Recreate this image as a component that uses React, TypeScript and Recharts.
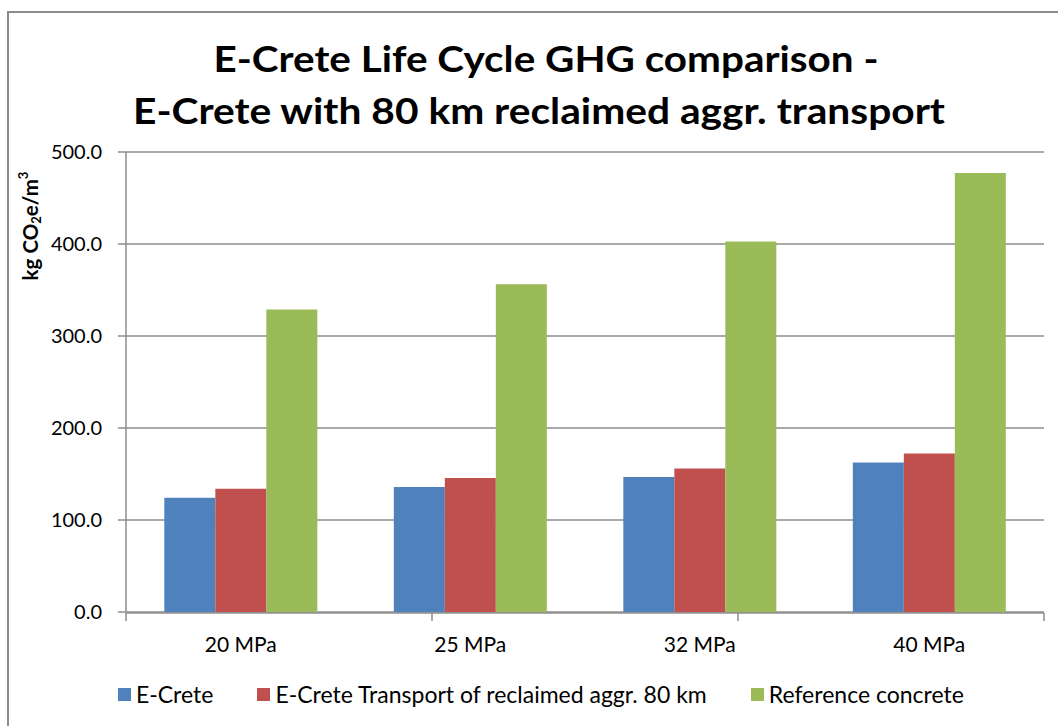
import { BarChart, Bar, XAxis, YAxis, CartesianGrid } from "recharts";

const categories = ["20 MPa", "25 MPa", "32 MPa", "40 MPa"];
const eCrete = [124.3, 135.9, 146.8, 162.4];
const eCreteTransport = [134.1, 145.7, 155.9, 172.2];
const referenceConcrete = [328.7, 356.2, 402.6, 477.2];
const yTicks = [0, 100, 200, 300, 400, 500];
const boundaryTicks = [0, 1, 2, 3, 4];

const SERIES = [
  { key: "eCrete", name: "E-Crete", color: "#4F81BD" },
  { key: "eCreteTransport", name: "E-Crete Transport of reclaimed aggr. 80 km", color: "#C0504D" },
  { key: "referenceConcrete", name: "Reference concrete", color: "#9BBB59" },
];

const data = categories.map((name, i) => ({
  name,
  eCrete: eCrete[i],
  eCreteTransport: eCreteTransport[i],
  referenceConcrete: referenceConcrete[i],
}));

const FONT = "Lato, 'Open Sans', sans-serif";
const GRID = "#8c8c8c";

// rotated y-axis title with sub/superscript
// eslint-disable-next-line @typescript-eslint/no-explicit-any
function YTitle(props: any) {
  const vb = props.viewBox || { x: 0, y: 152, width: 126, height: 460 };
  const x = vb.x + 33;
  const y = vb.y + 74;
  return (
    <text x={x} y={y} transform={`rotate(-90 ${x} ${y})`} textAnchor="middle" dominantBaseline="middle"
      style={{ fontFamily: FONT, fontWeight: 700, fontSize: 20.5, fill: "#000" }}>
      kg CO<tspan fontSize={13} dy={5}>2</tspan><tspan dy={-5}>e/m</tspan><tspan fontSize={13} dy={-8}>3</tspan>
    </text>
  );
}

export default function App() {
  return (
    <div style={{ position: "absolute", left: 0, top: 0, width: 1058, height: 726, overflow: "hidden", background: "#fff" }}>
      {/* Excel chart frame (only top/left visible in the crop) */}
      <div style={{ position: "absolute", left: 7, top: 11, width: 1100, height: 800, border: "2px solid #8c8c8c", boxSizing: "border-box" }} />

      <svg width={1058} height={140} style={{ position: "absolute", left: 0, top: 0 }}>
        <text x={546} y={72} textAnchor="middle" textLength={665} lengthAdjust="spacingAndGlyphs"
          style={{ fontFamily: FONT, fontWeight: 700, fontSize: 37, fill: "#000" }}>
          E-Crete Life Cycle GHG comparison -
        </text>
        <text x={539} y={124} textAnchor="middle" textLength={812} lengthAdjust="spacingAndGlyphs"
          style={{ fontFamily: FONT, fontWeight: 700, fontSize: 37, fill: "#000" }}>
          E-Crete with 80 km reclaimed aggr. transport
        </text>
      </svg>

      <div style={{ position: "absolute", left: 0, top: 0 }}>
        <BarChart width={1058} height={726} data={data} margin={{ top: 152, right: 14, bottom: 112, left: 0 }}
          barCategoryGap="16.7%" barGap={0}>
          <CartesianGrid vertical={false} stroke={GRID} strokeWidth={1.5} />
          <XAxis xAxisId="edges" type="number" domain={[0, 4]} ticks={boundaryTicks} allowDataOverflow
            height={1} axisLine={{ stroke: GRID, strokeWidth: 1.5 }} tickLine={{ stroke: GRID, strokeWidth: 1.5 }}
            tickSize={8} tickFormatter={() => ""} />
          <XAxis xAxisId="cat" dataKey="name" height={1} axisLine={false} tickLine={false} tickSize={8} tickMargin={17}
            tick={{ fill: "#000", fontSize: 21, fontFamily: FONT }} />
          <YAxis domain={[0, 500]} ticks={yTicks} width={126} tickFormatter={(v: number) => v.toFixed(1)}
            axisLine={{ stroke: GRID, strokeWidth: 1.5 }} tickLine={{ stroke: GRID, strokeWidth: 1.5 }}
            tickSize={8} tickMargin={16} tick={{ fill: "#000", fontSize: 20, fontFamily: FONT }}
            label={<YTitle />} />
          {SERIES.map((s) => (
            <Bar key={s.key} xAxisId="cat" dataKey={s.key} name={s.name} fill={s.color} isAnimationActive={false} />
          ))}
        </BarChart>
      </div>

      <div style={{ position: "absolute", left: 118, top: 680, display: "flex", alignItems: "center", gap: 44,
        fontFamily: FONT, fontSize: 23, color: "#000", whiteSpace: "nowrap" }}>
        {SERIES.map((s) => (
          <div key={s.key} style={{ display: "flex", alignItems: "center", gap: 5 }}>
            <span style={{ width: 13, height: 13, background: s.color, display: "inline-block" }} />
            <span>{s.name}</span>
          </div>
        ))}
      </div>
    </div>
  );
}
